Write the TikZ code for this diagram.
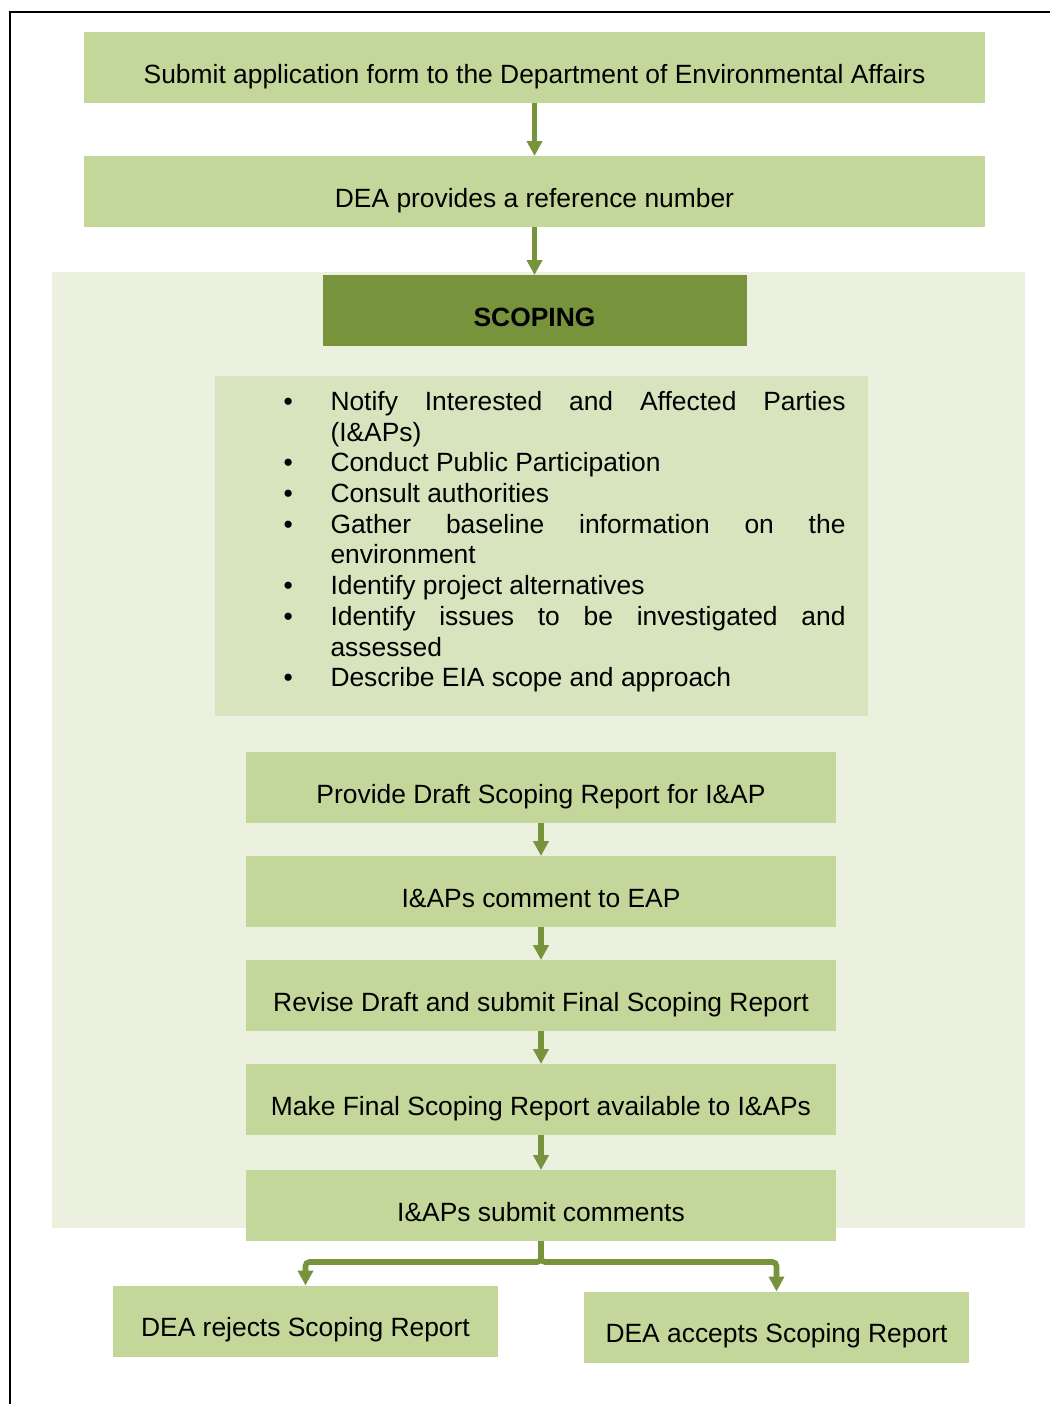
\documentclass[tikz,border=0pt]{standalone}
\usepackage{fontspec}
\setmainfont{Liberation Sans}
\usetikzlibrary{arrows.meta,positioning}
\definecolor{olive}{HTML}{77933C}
\definecolor{olivelt}{HTML}{C4D79B}
\definecolor{olivemid}{HTML}{D7E4BD}
\definecolor{olivebg}{HTML}{EBF1DE}

\newenvironment{tasklist}{%
  \hyphenpenalty=10000 \tolerance=10000
  \begin{list}{\textbullet}{%
    \setlength{\leftmargin}{52.5pt}\setlength{\rightmargin}{5.5pt}%
    \setlength{\labelwidth}{23.5pt}\setlength{\labelsep}{0pt}%
    \setlength{\itemsep}{0pt}\setlength{\parsep}{0pt}%
    \setlength{\topsep}{0pt}\setlength{\partopsep}{0pt}%
    \renewcommand{\makelabel}[1]{##1\hfil}}}
  {\end{list}\par\vskip10pt\hrule height0pt depth0pt width0pt}

\begin{document}
\begin{tikzpicture}[
  x=0.5pt, y=-0.5pt,
  font=\fontsize{13.2}{15.35}\selectfont,
  stage/.style={fill=olivelt,minimum height=35.5pt,inner sep=0pt,outer sep=0pt,text height=15.5pt,text depth=0pt},
  wide/.style={stage,minimum width=450.5pt},
  chainbox/.style={stage,minimum width=295pt},
  endbox/.style={stage,minimum width=192.5pt},
  phase/.style={stage,fill=olive,minimum width=212pt,font=\fontsize{13.2}{15.35}\selectfont\bfseries},
  panel/.style={fill=olivebg,inner sep=0pt,outer sep=0pt,minimum width=486.5pt,minimum height=478pt},
  listbox/.style={fill=olivemid,inner xsep=5.5pt,inner ysep=0pt,outer sep=0pt,minimum height=170pt,text width=315.5pt,align=justify},
  arr/.style={-{Triangle[length=7.5pt,width=7.5pt]},draw=olive,line width=2.8pt},
  outline/.style={draw=black,line width=1pt},
]
\useasboundingbox (0,0) rectangle (1050,1404);
\draw[outline] (10,1404) -- (10,12) -- (1050,12);

\node[panel] (scopepanel) at (538.5,750) {};

\node[wide] (apply) at (534.5,67.5) {Submit application form to the Department of Environmental Affairs};
\node[wide, below=26.5pt of apply] (refno) {DEA provides a reference number};
\node[phase, below=24pt of refno] (scoping) {SCOPING};
\node[listbox, below=15pt of scoping, xshift=3.25pt] (tasks) {%
  \begin{tasklist}
  \item Notify Interested and Affected Parties (I\&APs)
  \item Conduct Public Participation
  \item Consult authorities
  \item Gather baseline information on the environment
  \item Identify project alternatives
  \item Identify issues to be investigated and assessed
  \item Describe EIA scope and approach
  \end{tasklist}};

\node[chainbox, below=18pt of tasks] (draft) {Provide Draft Scoping Report for I\&AP};
\node[chainbox, below=16.5pt of draft] (comment) {I\&APs comment to EAP};
\node[chainbox, below=16.5pt of comment] (revise) {Revise Draft and submit Final Scoping Report};
\node[chainbox, below=16.5pt of revise] (final) {Make Final Scoping Report available to I\&APs};
\node[chainbox, below=17.5pt of final] (submit) {I\&APs submit comments};

\node[endbox] (reject) at (305.5,1321) {DEA rejects Scoping Report};
\node[endbox] (accept) at (776.5,1327) {DEA accepts Scoping Report};
\coordinate (split) at (541,1262);

\draw[arr] (apply) -- (refno);
\draw[arr] (refno) -- (scoping);
\draw[arr] (draft) -- (comment);
\draw[arr] (comment) -- (revise);
\draw[arr] (revise) -- (final);
\draw[arr] (final) -- (submit);
\draw[arr, rounded corners=2pt] (submit.south) -- (split) -| (reject.north);
\draw[arr, rounded corners=2pt] (submit.south) -- (split) -| (accept.north);
\end{tikzpicture}
\end{document}
